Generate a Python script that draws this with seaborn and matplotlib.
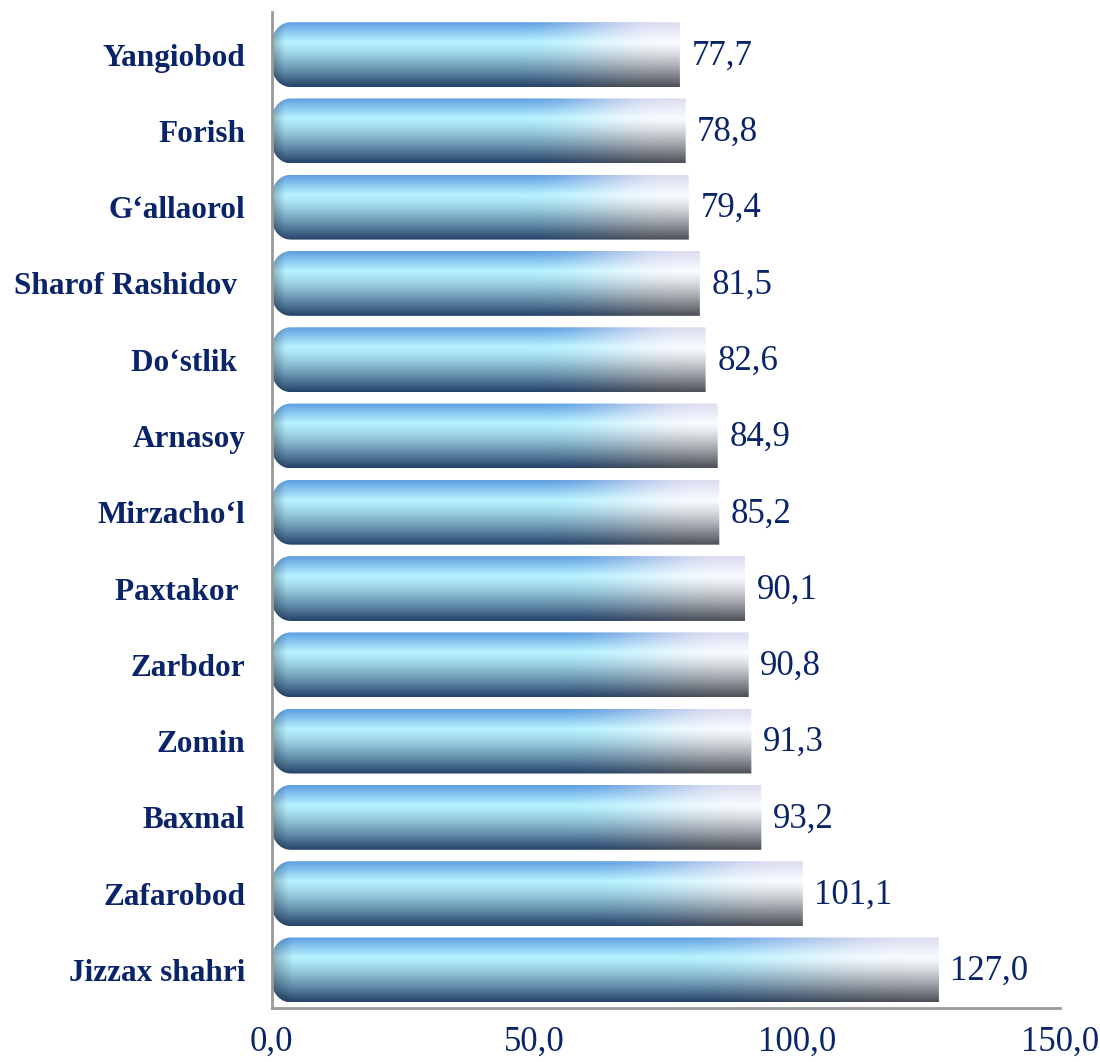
import numpy as np
import pandas as pd
import matplotlib
matplotlib.use("Agg")
import matplotlib.pyplot as plt
import seaborn as sns
from matplotlib.path import Path
from matplotlib.patches import PathPatch

districts = ['Yangiobod', 'Forish', 'G\u2018allaorol', 'Sharof Rashidov ', 'Do\u2018stlik ',
             'Arnasoy', 'Mirzacho\u2018l', 'Paxtakor ', 'Zarbdor', 'Zomin', 'Baxmal',
             'Zafarobod', 'Jizzax shahri']
values = [77.7, 78.8, 79.4, 81.5, 82.6, 84.9, 85.2, 90.1, 90.8, 91.3, 93.2, 101.1, 127.0]
xticks = [0, 50, 100, 150]

navy = '#0a246a'

sns.set_theme(style='white')
plt.rcParams['font.family'] = ['Liberation Serif', 'DejaVu Serif']

df = pd.DataFrame({'district': districts, 'value': values})

fig = plt.figure(figsize=(11, 10.62), dpi=100)
ax = fig.add_axes([0.247, 0.0508, 0.7164, 0.938])
sns.barplot(data=df, y='district', x='value', orient='h', width=0.85, ax=ax,
            color='#5b9bd5')


# build cylinder-like gradient for one bar
def bar_gradient(nx=300, ny=80):
    ys = np.linspace(0, 1, ny)[:, None]  # 0 top -> 1 bottom
    xs = np.linspace(0, 1, nx)[None, :]

    def profile(top, hi, bot):
        top, hi, bot = [np.array(matplotlib.colors.to_rgb(c)) for c in (top, hi, bot)]
        y = ys[..., None]
        up = top + (hi - top) * np.clip(y / 0.3, 0, 1)
        down = hi + (bot - hi) * np.clip((y - 0.3) / 0.7, 0, 1) ** 1.3
        return np.where(y < 0.3, up, down)
    left = profile('#5f9fe2', '#b6f2ff', '#25426a')
    right = profile('#dcdcf0', '#f8fbff', '#4b4f57')
    t = np.clip((xs - 0.6) / 0.36, 0, 1)
    t = (t * t * (3 - 2 * t))[..., None]
    img = left * (1 - t) + right * t
    # darker rounded left end
    edge = np.clip(1 - xs / 0.03, 0, 1)[..., None] * 0.25
    img = img * (1 - edge)
    return np.clip(img, 0, 1)


grad = bar_gradient()
for p in ax.patches:
    x0, y0 = p.get_x(), p.get_y()
    w, h = p.get_width(), p.get_height()
    p.set_facecolor('none')
    p.set_edgecolor('none')
    # clip path: rounded left end, square right end
    rx, ry = 3.6, h * 0.33
    th = np.linspace(np.pi / 2, np.pi, 12)
    top_arc = np.c_[x0 + rx + rx * np.cos(th), y0 + ry - ry * np.sin(th)]
    th2 = np.linspace(np.pi, 1.5 * np.pi, 12)
    bot_arc = np.c_[x0 + rx + rx * np.cos(th2), y0 + h - ry - ry * np.sin(th2)]
    verts = np.vstack([[[x0 + w, y0]], top_arc, bot_arc, [[x0 + w, y0 + h]], [[x0 + w, y0]]])
    clip = PathPatch(Path(verts, closed=True), transform=ax.transData, facecolor='none', edgecolor='none')
    ax.add_patch(clip)
    im = ax.imshow(grad, extent=(x0, x0 + w, y0 + h, y0), aspect='auto', zorder=2, interpolation='bilinear')
    im.set_clip_path(clip)

ax.set_xlim(0, 150)
ax.set_ylim(12.5, -0.56)
ax.set_xticks(xticks)
ax.set_xticklabels([f'{v:.1f}'.replace('.', ',') for v in xticks])
ax.set_xlabel('')
ax.set_ylabel('')

for i, v in enumerate(values):
    ax.text(v + 2.2, i + 0.02, f'{v:.1f}'.replace('.', ','), va='center', ha='left',
            fontsize=25, color=navy)

ax.tick_params(axis='x', length=0, pad=13, labelsize=25, labelcolor=navy)
ax.tick_params(axis='y', length=0, pad=19, labelsize=22.5, labelcolor=navy)
for lab in ax.get_yticklabels():
    lab.set_fontweight('bold')

for side in ['top', 'right']:
    ax.spines[side].set_visible(False)
for side in ['left', 'bottom']:
    ax.spines[side].set_color('#9a9a9a')
    ax.spines[side].set_linewidth(2)

fig.savefig('out.png', dpi=100)
